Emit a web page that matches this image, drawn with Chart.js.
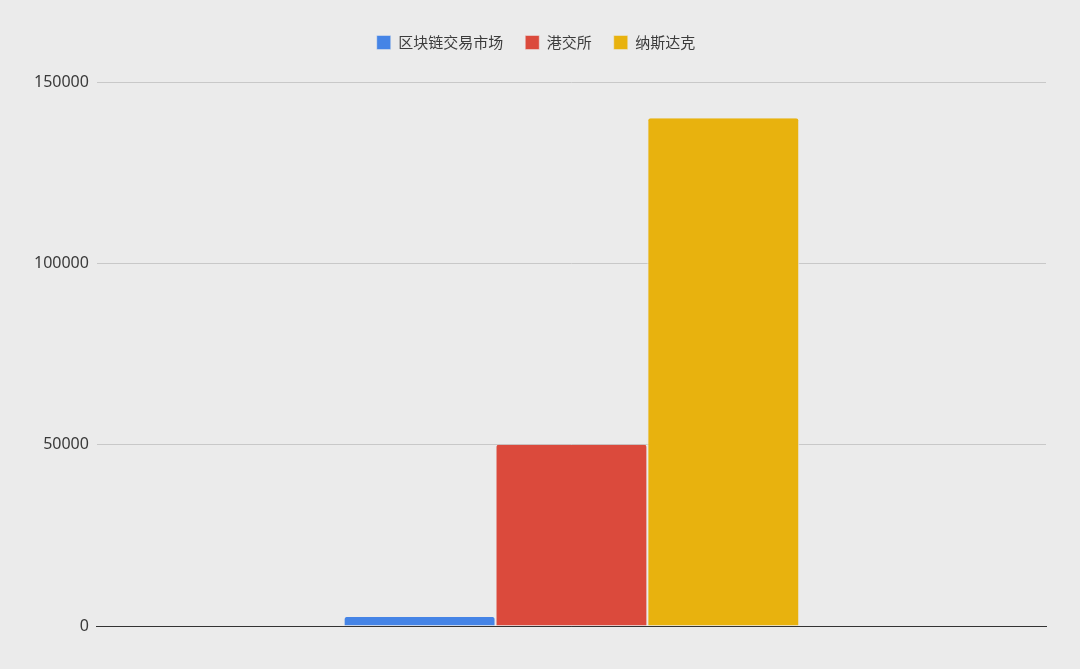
<!DOCTYPE html>
<html><head><meta charset="utf-8">
<script src="https://cdn.jsdelivr.net/npm/chart.js@4"></script>
<style>html,body{margin:0;padding:0;background:#ebebeb;}#wrap{width:1080px;height:669px;}</style>
</head><body><div id="wrap"><canvas id="c" width="1080" height="669"></canvas></div>
<script>
const categories = [''];
const seriesNames = ['区块链交易市场', '港交所', '纳斯达克'];
const blockchainValues = [2500];
const hkexValues = [50000];
const nasdaqValues = [140000];
const yTicks = [0, 50000, 100000, 150000];
const colors = ['#4584e6', '#db4a3c', '#e8b20e'];

const bg = {id:'bg', beforeDraw(ch){const c=ch.ctx;c.save();c.fillStyle='#ebebeb';c.fillRect(0,0,ch.width,ch.height);c.restore();}};
const legendGap = {id:'legendGap', beforeInit(chart){
  const orig = chart.legend.fit;
  chart.legend.fit = function(){ orig.bind(chart.legend)(); this.height += 22; };
}};

new Chart(document.getElementById('c'), {
  type: 'bar',
  data: {
    labels: categories,
    datasets: [blockchainValues, hkexValues, nasdaqValues].map((d, i) => ({
      label: seriesNames[i], data: d, backgroundColor: colors[i],
      borderColor: '#ebebeb', borderWidth: {left:1,right:1,top:0,bottom:0},
      borderRadius: {topLeft:3, topRight:3}, borderSkipped: 'bottom',
      barPercentage: 1.0, categoryPercentage: 0.48
    }))
  },
  options: {
    responsive: false, animation: false, devicePixelRatio: 1,
    layout: {padding: {left: 26, right: 34, top: 13, bottom: 35}},
    plugins: {
      legend: {
        position: 'top',
        labels: {boxWidth: 14, boxHeight: 14, padding: 22, color: '#3c3c3c',
          font: {family: '"Noto Sans CJK SC", "Noto Sans", sans-serif', size: 15}}
      },
      tooltip: {enabled: false}
    },
    scales: {
      x: {grid: {display: false}, border: {display: true, color: '#333', width: 1}, ticks: {display: false}},
      y: {
        min: 0, max: 150000,
        afterBuildTicks: (s) => { s.ticks = yTicks.map(v => ({value: v})); },
        grid: {color: (ctx) => ctx.tick && ctx.tick.value === 0 ? '#333' : '#c8c8c8', drawTicks: false},
        border: {display: false},
        ticks: {padding: 8, color: '#3a3a3a', callback: (v) => String(v),
          font: {family: '"Noto Sans", Roboto, sans-serif', size: 16}}
      }
    }
  },
  plugins: [bg, legendGap]
});
</script></body></html>
